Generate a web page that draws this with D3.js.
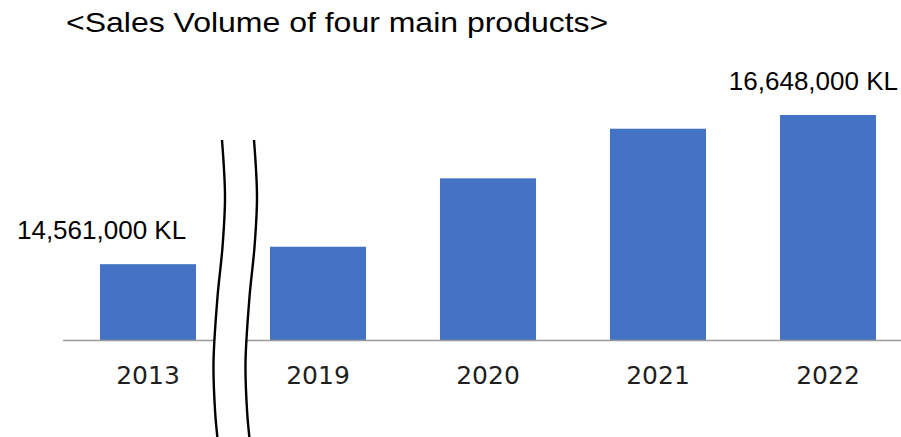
<!DOCTYPE html>
<html>
<head>
<meta charset="utf-8">
<script src="https://cdn.jsdelivr.net/npm/d3@7"></script>
<style>
  html, body { margin: 0; padding: 0; background: #fff; }
  svg { display: block; }
</style>
</head>
<body>
<svg id="chart" width="901" height="437"></svg>
<script>
// Sales volume (KL) of the four main products
const years = ["2013", "2019", "2020", "2021", "2022"];
const volumes = [14561000, 14805000, 15762000, 16456000, 16648000];
// Bars that carry a value label
const labelledYears = ["2013", "2022"];
const titleText = "<Sales Volume of four main products>";

const W = 901, H = 437;
const baseY = 340;
const svg = d3.select("#chart");

const x = d3.scaleBand()
  .domain(years)
  .range([63, 913])
  .paddingInner(0.435)
  .paddingOuter(0.2175);

// Value axis starts above zero (truncated axis)
const y = d3.scaleLinear()
  .domain([13500000, 16648000])
  .range([baseY, 115]);

// Title
svg.append("text")
  .attr("transform", "translate(66,32) scale(1.185,1)")
  .attr("font-family", "'Liberation Sans', Arial, sans-serif")
  .attr("font-size", 27)
  .attr("fill", "#000")
  .text(titleText);

// Bars
svg.append("g")
  .selectAll("rect")
  .data(years.map((yr, i) => ({ yr, v: volumes[i] })))
  .join("rect")
  .attr("x", d => x(d.yr))
  .attr("width", x.bandwidth())
  .attr("y", d => y(d.v))
  .attr("height", d => baseY - y(d.v))
  .attr("fill", "#4472C4");

// Category axis
const axis = svg.append("g")
  .attr("transform", `translate(0,${baseY})`)
  .call(d3.axisBottom(x).tickSize(0).tickPadding(0));
axis.select(".domain")
  .attr("d", `M63,0.5H${W}`)
  .attr("stroke", "#9a9a9a")
  .attr("stroke-width", 1.3);
axis.selectAll(".tick text")
  .attr("dy", 0)
  .attr("y", 44)
  .attr("font-family", "'DejaVu Sans', Verdana, sans-serif")
  .attr("font-size", 25)
  .attr("fill", "#1f1f1f");

// Value labels
const fmt = d3.format(",");
labelledYears.forEach(yr => {
  const i = years.indexOf(yr);
  const first = i === 0;
  svg.append("text")
    .attr("x", first ? x(yr) - 83 : W - 3)
    .attr("y", y(volumes[i]) - 25)
    .attr("text-anchor", first ? "start" : "end")
    .attr("font-family", "'Liberation Sans', Arial, sans-serif")
    .attr("font-size", 26)
    .attr("fill", "#000")
    .text(fmt(volumes[i]) + " KL");
});

// Axis break marker between 2013 and 2019: two wavy strokes with a white gap
const gapStart = x("2013") + x.bandwidth();
const gapMid = gapStart + (x("2019") - gapStart) / 2;
const waveY = [140, 197, 247, 297, 363, 413, 441];
const waveDx = [3, 6, 3.5, -1.5, -5.5, -3.8, -1.2];
const leftX = gapMid - 14, rightX = gapMid + 18;
const leftPts = waveY.map((yy, i) => [leftX + waveDx[i], yy]);
const rightPts = waveY.map((yy, i) => [rightX + waveDx[i], yy]);
const curve = d3.line().curve(d3.curveCatmullRom.alpha(0.5));

svg.append("path")
  .attr("d", curve(leftPts) + "L" + curve(rightPts.slice().reverse()).slice(1) + "Z")
  .attr("fill", "#fff")
  .attr("stroke", "none");
[leftPts, rightPts].forEach(pts => {
  svg.append("path")
    .attr("d", curve(pts))
    .attr("fill", "none")
    .attr("stroke", "#000")
    .attr("stroke-width", 2.4);
});
</script>
</body>
</html>
